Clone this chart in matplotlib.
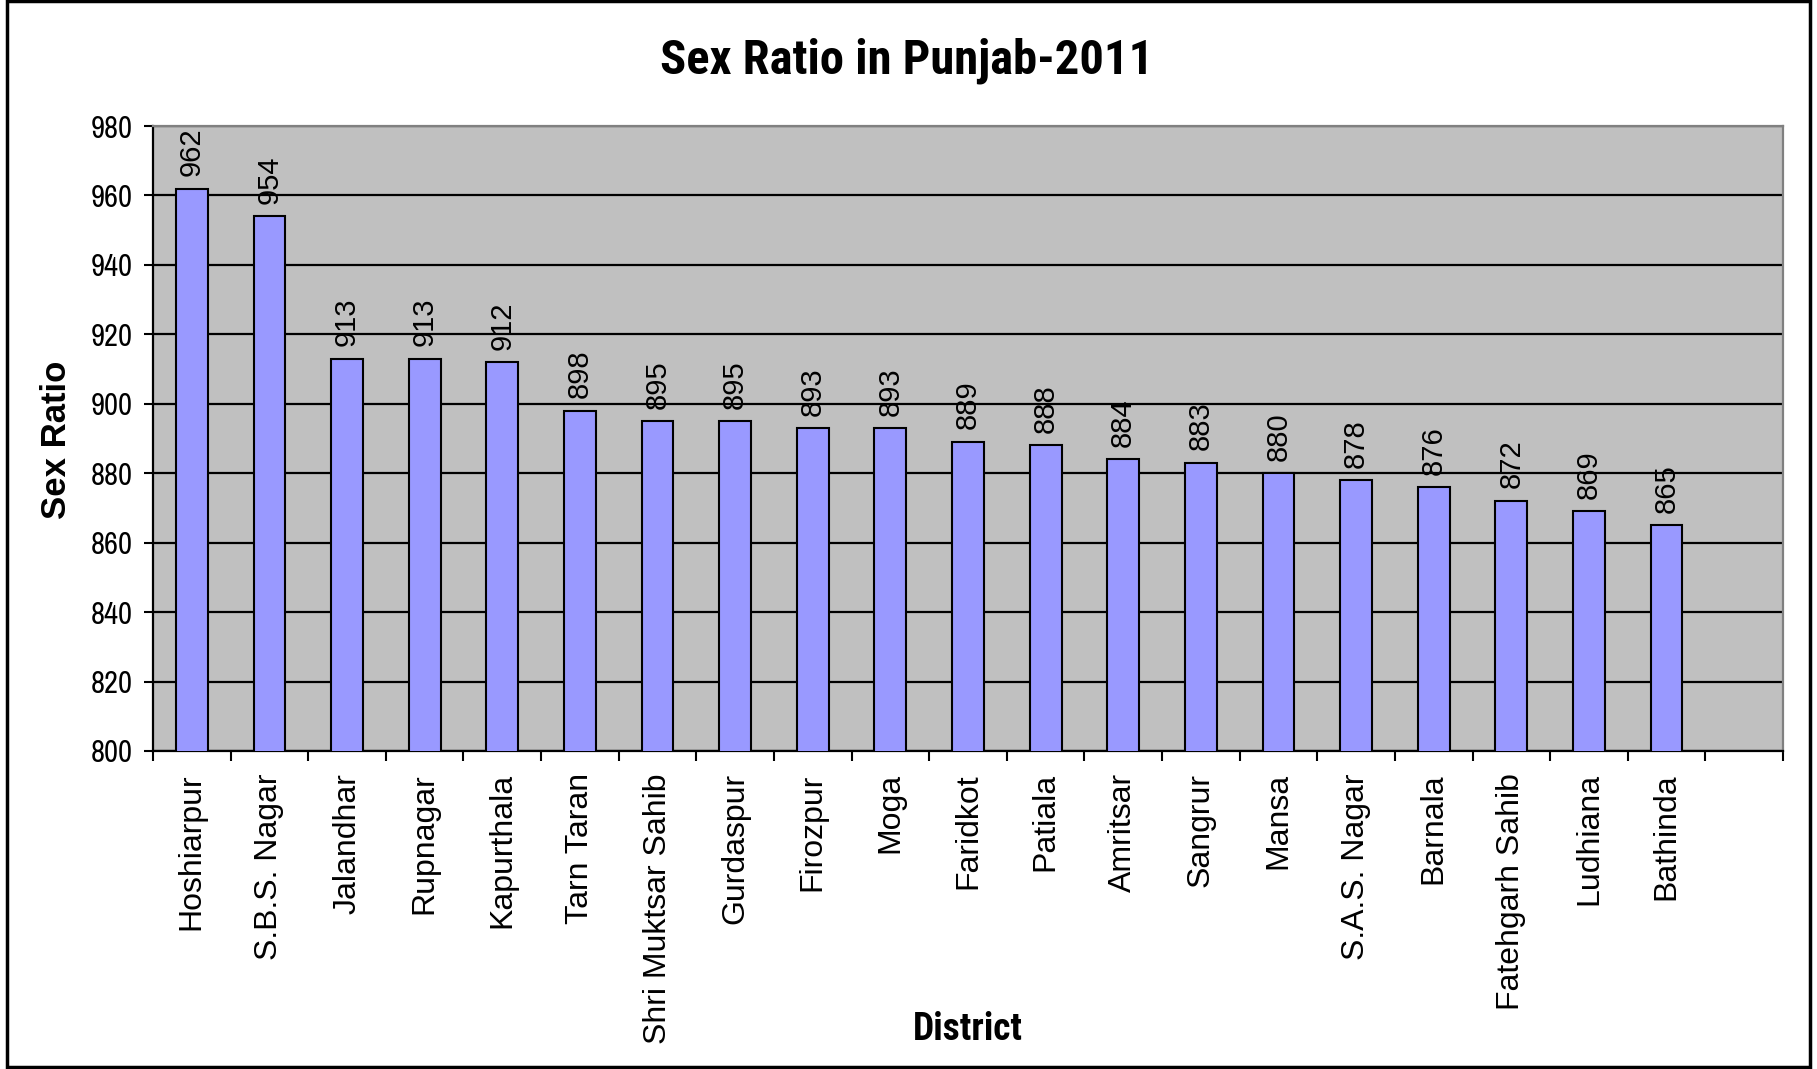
import matplotlib
matplotlib.use("Agg")
import matplotlib.pyplot as plt
from matplotlib import font_manager
from matplotlib.patches import Rectangle

districts = ["Hoshiarpur", "S.B.S. Nagar", "Jalandhar", "Rupnagar", "Kapurthala",
             "Tarn Taran", "Shri Muktsar Sahib", "Gurdaspur", "Firozpur", "Moga",
             "Faridkot", "Patiala", "Amritsar", "Sangrur", "Mansa", "S.A.S. Nagar",
             "Barnala", "Fatehgarh Sahib", "Ludhiana", "Bathinda"]
sex_ratio = [962, 954, 913, 913, 912, 898, 895, 895, 893, 893,
             889, 888, 884, 883, 880, 878, 876, 872, 869, 865]
y_ticks = [800, 820, 840, 860, 880, 900, 920, 940, 960, 980]

fonts = font_manager.fontManager.ttflist
names = {f.name for f in fonts}
bold_names = {f.name for f in fonts if (f.weight if isinstance(f.weight, int) else
              {"bold": 700, "heavy": 800, "black": 900}.get(str(f.weight), 400)) >= 700}

def pick(cands, pool):
    for c in cands:
        if c in pool:
            return c
    return "DejaVu Sans"

narrow_cands = ["Liberation Sans Narrow", "Arial Narrow", "Archivo Narrow",
                "Roboto Condensed", "Open Sans Condensed", "Barlow Semi Condensed",
                "Barlow Condensed", "Liberation Sans"]
REG = pick(["Liberation Sans", "Arimo", "DejaVu Sans"], names)
NARROW = pick(narrow_cands, names)
NARROW_B = pick(narrow_cands, bold_names)

W, H = 1817, 1069
fig = plt.figure(figsize=(W / 100, H / 100), dpi=100)
fig.patch.set_facecolor("white")

def fx(px): return px / W
def fy(py): return 1 - py / H

left, right, top, bottom = 153, 1783, 126, 751
ax = fig.add_axes([fx(left), fy(bottom), fx(right - left), (bottom - top) / H])
ax.set_facecolor("#C0C0C0")

x = list(range(len(districts)))
ax.bar(x, sex_ratio, width=0.41, color="#9999FF", edgecolor="black", linewidth=1.5, zorder=3)

ax.set_xlim(-0.5, len(districts) + 0.5)
ax.set_ylim(800, 980)
ax.set_yticks(y_ticks)
ax.set_yticklabels([str(v) for v in y_ticks], fontfamily=NARROW, fontsize=22)
ax.yaxis.grid(True, color="black", linewidth=1.6, zorder=1)
ax.set_axisbelow(True)
ax.tick_params(axis="y", direction="out", length=6.5, width=1.5, pad=8, color="black")

ax.set_xticks(x)
ax.set_xticklabels(districts, rotation=90, fontfamily=REG, fontsize=23, va="top", ha="center")
ax.tick_params(axis="x", which="major", length=0, pad=16)
ax.set_xticks([i - 0.5 for i in range(len(districts) + 2)], minor=True)
ax.tick_params(axis="x", which="minor", direction="out", length=7, width=1.5, color="black")

for s in ["left", "bottom"]:
    ax.spines[s].set_color("black")
    ax.spines[s].set_linewidth(1.6)
for s in ["top", "right"]:
    ax.spines[s].set_color("#808080")
    ax.spines[s].set_linewidth(1.6)

for xi, v in zip(x, sex_ratio):
    ax.annotate(str(v), (xi, v), xytext=(0, 9), textcoords="offset points",
                rotation=90, ha="center", va="bottom", fontfamily=REG, fontsize=21, zorder=4)

fig.text(fx(907), fy(61), "Sex Ratio in Punjab-2011", fontfamily=NARROW_B, fontweight="bold",
         fontsize=35, ha="center", va="center")
fig.text(fx(968), fy(1030), "District", fontfamily=NARROW_B, fontweight="bold",
         fontsize=27, ha="center", va="center")
fig.text(fx(56), fy(440), "Sex Ratio", fontfamily=REG, fontweight="bold",
         fontsize=25, ha="center", va="center", rotation=90)

fig.patches.append(Rectangle((fx(7), fy(1067)), fx(1810 - 7), (1067 - 1) / H,
                             transform=fig.transFigure, fill=False,
                             edgecolor="black", linewidth=2.5))

fig.savefig("out.png", dpi=100)
